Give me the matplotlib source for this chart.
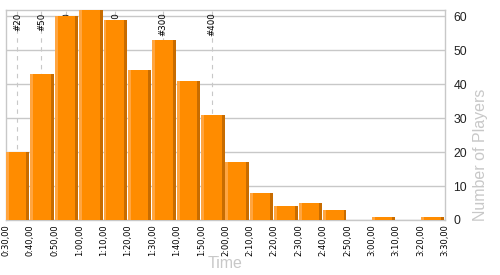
import numpy as np
import matplotlib.pyplot as plt

plt.rcParams['font.family'] = ['Liberation Sans', 'DejaVu Sans']

# histogram of finishing times, 10 minute bins starting at 0:30
bin_starts = [30, 40, 50, 60, 70, 80, 90, 100, 110, 120, 130, 140, 150, 160, 170, 180, 190, 200]
players = [20, 43, 60, 62, 59, 44, 53, 41, 31, 17, 8, 4, 5, 3, 0, 1, 0, 1]

# rank markers (time in minutes)
rank_labels = ["#20", "#50", "#100", "#200", "#300", "#400"]
rank_times = [34.5, 44.3, 54.5, 74.6, 94.2, 114.3]

tick_times = list(range(30, 211, 10))

def fmt(m):
    return "%d:%02d,00" % (m // 60, m % 60)

fig = plt.figure(figsize=(5, 2.75), dpi=100)
ax = fig.add_axes([0.011, 0.2, 0.879, 0.7636])

ymax = 61.8
for t, lab in zip(rank_times, rank_labels):
    ax.axvline(t, color="#c8c8c8", lw=0.8, ls=(0, (4, 4)), zorder=1)
    ax.text(t + 0.3, ymax - 0.8, lab, rotation=90, ha="center", va="top",
            fontsize=6.2, family="DejaVu Sans", color="black", zorder=2)

w = 9.6
edge = 1.2
ax.bar(bin_starts, players, width=w, align="edge", color="#ff8c00", zorder=3, lw=0)
ax.bar(bin_starts, players, width=edge, align="edge", color="#ffa540", zorder=4, lw=0)
ax.bar([b + w - edge for b in bin_starts], players, width=edge, align="edge",
       color="#c86c00", zorder=4, lw=0)

ax.set_xlim(29.8, 209.6)
ax.set_ylim(0, ymax)
ax.set_xticks(tick_times)
ax.set_xticklabels([fmt(m) for m in tick_times], rotation=90, fontsize=6,
                   family="DejaVu Sans")
ax.tick_params(axis="x", length=0, pad=3)

ax.yaxis.tick_right()
ax.set_yticks(range(0, 61, 10))
ax.tick_params(axis="y", length=0, pad=6, labelsize=8.8, labelcolor="#222222")
ax.grid(axis="y", color="#c8c8c8", lw=1, zorder=0)
ax.set_axisbelow(True)

for s in ax.spines.values():
    s.set_color("#c8c8c8")
    s.set_linewidth(1)

fig.text(225 / 500, 1 - 264 / 275, "Time", color="#c8c8c8", fontsize=11.5,
         ha="center", va="center")
fig.text(480 / 500, 1 - 155 / 275, "Number of Players", color="#c8c8c8",
         fontsize=11.5, rotation=90, ha="center", va="center")

fig.savefig("out.png", dpi=100)
